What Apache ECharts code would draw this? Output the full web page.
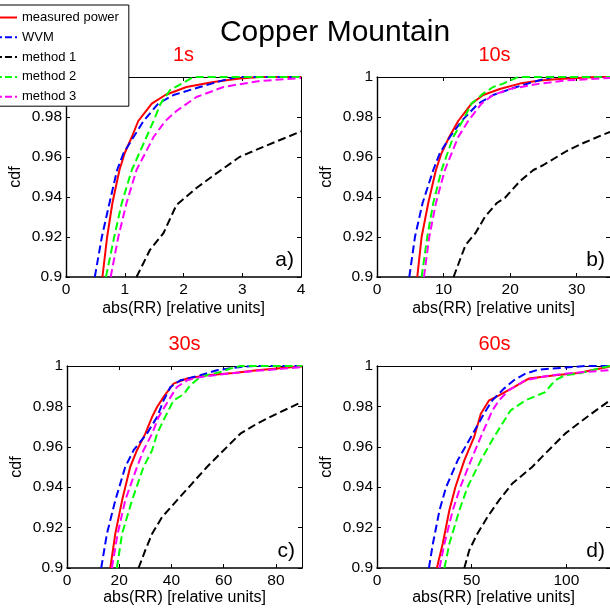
<!DOCTYPE html>
<html><head><meta charset="utf-8">
<script src="https://cdn.jsdelivr.net/npm/echarts@6/dist/echarts.min.js"></script>
<style>html,body{margin:0;padding:0;background:#fff}#c{width:610px;height:612px}</style>
</head><body><div id="c"></div>
<script>
// ---------- data ----------
const seriesNames = ['measured power', 'WVM', 'method 1', 'method 2', 'method 3'];
const mainTitle = 'Copper Mountain';
const panelTitles = ['1s', '10s', '30s', '60s'];
const panelLetters = ['a)', 'b)', 'c)', 'd)'];
const xAxisName = 'abs(RR) [relative units]';
const yAxisName = 'cdf';
const xMaxes = [4, 35, 90, 123];
const xIntervals = [1, 10, 20, 50];
const yMin = 0.9, yMax = 1, yInterval = 0.02;

// panel a) 1s
const a_measured = [[0.62,0.9],[0.70,0.92],[0.79,0.937],[0.91,0.9535],[1.0,0.962],[1.12,0.97],[1.23,0.978],[1.46,0.9867],[1.69,0.991],[2.05,0.995],[2.51,0.9975],[2.96,0.9992],[3.3,1.0],[4,1.0]];
const a_wvm = [[0.49,0.9],[0.61,0.92],[0.74,0.937],[0.87,0.9535],[0.98,0.962],[1.15,0.97],[1.32,0.978],[1.57,0.9867],[1.83,0.991],[2.28,0.995],[2.67,0.9983],[2.9,1.0],[4,1.0]];
const a_m1 = [[1.2,0.9],[1.43,0.9136],[1.66,0.922],[1.88,0.936],[2.22,0.9445],[2.56,0.9518],[2.96,0.9601],[3.36,0.9651],[4,0.9728]];
const a_m2 = [[0.68,0.9],[0.82,0.92],[0.95,0.937],[1.12,0.9535],[1.37,0.97],[1.49,0.978],[1.61,0.9867],[1.77,0.9934],[1.97,0.9967],[2.17,1.0],[4,1.0]];
const a_m3 = [[0.76,0.9],[0.89,0.92],[1.03,0.937],[1.2,0.9535],[1.49,0.97],[1.69,0.978],[1.88,0.983],[2.22,0.99],[2.68,0.995],[2.85,0.9959],[3.3,0.998],[4,0.9995]];

// panel b) 10s
const b_measured = [[6.05,0.9],[6.7,0.92],[7.7,0.937],[8.85,0.9535],[9.7,0.962],[10.85,0.97],[12.2,0.978],[14.2,0.9867],[15.95,0.991],[18.45,0.994],[21.45,0.9967],[24.45,0.9983],[27.4,0.999],[33,1.0],[35,1.0]];
const b_wvm = [[4.85,0.9],[5.7,0.92],[6.85,0.937],[8.45,0.9535],[9.45,0.962],[10.95,0.97],[12.7,0.978],[15.2,0.9867],[17.45,0.991],[20.95,0.995],[23.45,0.9975],[26.4,1.0],[35,1.0]];
const b_m1 = [[11.5,0.9],[13.3,0.916],[14.8,0.922],[16.2,0.93],[18,0.937],[19.2,0.9395],[21.5,0.948],[23.5,0.9535],[25,0.956],[28.5,0.963],[31,0.967],[35,0.9726]];
const b_m2 = [[6.7,0.9],[7.55,0.92],[8.45,0.937],[9.7,0.9535],[11.45,0.97],[12.85,0.978],[14.2,0.9867],[15.95,0.9917],[17.45,0.995],[18.95,0.9967],[21.2,1.0],[35,1.0]];
const b_m3 = [[7.05,0.9],[7.85,0.92],[8.85,0.937],[10.2,0.9535],[12.2,0.97],[13.7,0.978],[15.7,0.9867],[17.45,0.991],[19.95,0.994],[24.45,0.9967],[28.45,0.9983],[35,0.9995]];

// panel c) 30s
const c_measured = [[16.6,0.9],[18.5,0.917],[21.1,0.9335],[24.2,0.95],[26.8,0.9583],[30,0.9665],[32.6,0.9748],[34.5,0.9797],[37,0.9847],[40.8,0.9913],[46,0.9938],[53.6,0.9954],[63.8,0.9965],[72.8,0.9979],[86.8,0.9995],[90,0.9998]];
const c_wvm = [[13.1,0.9],[15.3,0.917],[18.5,0.9335],[22.3,0.95],[25.5,0.9583],[30.6,0.9665],[34.5,0.9748],[37,0.983],[39.6,0.9896],[43.4,0.9929],[51.1,0.9954],[57.4,0.9979],[66.4,0.9995],[72,1.0],[90,1.0]];
const c_m1 = [[27.4,0.9],[30,0.9088],[32.6,0.917],[36.4,0.9252],[42.1,0.9335],[47.9,0.9418],[53.6,0.95],[60,0.9583],[66.4,0.9665],[72.8,0.9715],[80.4,0.9764],[90,0.9822]];
const c_m2 = [[19.1,0.9],[21.1,0.917],[24.9,0.9335],[29.3,0.95],[32.6,0.9583],[34.5,0.9665],[37.6,0.9748],[40.8,0.983],[44.7,0.986],[47.2,0.9905],[51.1,0.9946],[58.7,0.997],[62.5,0.9987],[66.4,1.0],[90,1.0]];
const c_m3 = [[17.2,0.9],[19.4,0.917],[22.3,0.9335],[26.8,0.95],[29.3,0.9583],[32.6,0.9665],[35.1,0.9748],[38.9,0.983],[42.1,0.9896],[46,0.9929],[51.1,0.9946],[61.3,0.9962],[71.5,0.9975],[83,0.9987],[90,0.9995]];

// panel d) 60s
const d_measured = [[31.6,0.9],[34.7,0.912],[38.2,0.9286],[41.4,0.9401],[46.1,0.9533],[51.3,0.9649],[54.8,0.9764],[59.2,0.983],[64.4,0.9855],[72.3,0.9896],[80.1,0.9938],[94.1,0.9954],[106.3,0.9965],[113.2,0.9979],[122,0.9995],[123,1.0]];
const d_wvm = [[27.4,0.9],[29.5,0.912],[33,0.9286],[36.5,0.9401],[42.6,0.9533],[49.6,0.9649],[56.5,0.9764],[60.9,0.983],[67,0.9888],[72.3,0.993],[78.4,0.9962],[85.3,0.9982],[99.3,0.9992],[109.8,1.0],[123,1.0]];
const d_m1 = [[46.1,0.9],[48.7,0.9088],[53,0.917],[58.3,0.9252],[64.4,0.9335],[71.4,0.9418],[81.9,0.95],[87.1,0.955],[94.1,0.9616],[99.3,0.9665],[106.3,0.9715],[113.2,0.9764],[123,0.983]];
const d_m2 = [[35.6,0.9],[38.2,0.912],[43.5,0.9286],[47.8,0.9401],[54.8,0.9533],[61.8,0.9649],[70.5,0.978],[78.4,0.983],[88.8,0.9871],[94.1,0.993],[99.3,0.9954],[106.3,0.9962],[116.8,0.9987],[123,1.0]];
const d_m3 = [[33,0.9],[35.6,0.912],[40,0.9286],[44,0.9401],[49.6,0.9533],[54.8,0.9649],[60.9,0.978],[64.4,0.983],[69.6,0.988],[78.4,0.993],[88.8,0.9949],[99.3,0.9962],[123,0.998]];

const panelData = [
  [a_measured, a_wvm, a_m1, a_m2, a_m3],
  [b_measured, b_wvm, b_m1, b_m2, b_m3],
  [c_measured, c_wvm, c_m1, c_m2, c_m3],
  [d_measured, d_wvm, d_m1, d_m2, d_m3]
];

// ---------- layout & style ----------
const FONT = '"Liberation Sans", Arial, sans-serif';
const colors = ['#ff0000', '#0000ff', '#000000', '#00ff00', '#ff00ff'];
const lineTypes = ['solid', [8, 4], [8, 4], [8, 4], [8, 4]];
const legendLineTypes = ['solid', [7, 3], [7, 3], [7, 3], [7, 3]];
const grids = [
  { left: 66, top: 77, width: 235, height: 200 },
  { left: 377, top: 77, width: 235, height: 200 },
  { left: 67, top: 366, width: 235, height: 202 },
  { left: 377, top: 366, width: 235, height: 202 }
];

const xAxes = [], yAxes = [], series = [], graphics = [];
grids.forEach((g, i) => {
  const common = { gridIndex: i, type: 'value', min: 0, max: xMaxes[i], interval: xIntervals[i], splitLine: { show: false } };
  const maxIsTick = Math.abs(xMaxes[i] / xIntervals[i] - Math.round(xMaxes[i] / xIntervals[i])) < 1e-9;
  xAxes.push(Object.assign({}, common, {
    position: 'bottom',
    axisLine: { onZero: false, lineStyle: { color: '#000', width: 1.6 } },
    axisTick: { inside: true, length: 4, lineStyle: { color: '#000' } },
    axisLabel: { color: '#000', fontSize: 15.5, fontFamily: FONT, margin: 5, showMaxLabel: maxIsTick },
    name: xAxisName, nameLocation: 'middle', nameGap: i < 2 ? 24 : 22,
    nameTextStyle: { color: '#000', fontSize: 16, fontFamily: FONT }
  }));
  xAxes.push(Object.assign({}, common, {
    position: 'top',
    axisLine: { onZero: false, lineStyle: { color: '#000', width: 1 } },
    axisTick: { inside: true, length: 4, lineStyle: { color: '#000' } },
    axisLabel: { show: false }
  }));
  const ycommon = { gridIndex: i, type: 'value', min: yMin, max: yMax, interval: yInterval, splitLine: { show: false } };
  yAxes.push(Object.assign({}, ycommon, {
    position: 'left',
    axisLine: { onZero: false, lineStyle: { color: '#000', width: 1.4 } },
    axisTick: { inside: true, length: 4, lineStyle: { color: '#000' } },
    axisLabel: { color: '#000', fontSize: 15.5, fontFamily: FONT, margin: 4,
      formatter: v => String(+v.toFixed(2)) },
    name: yAxisName, nameLocation: 'middle', nameGap: 42, nameRotate: 90,
    nameTextStyle: { color: '#000', fontSize: 16, fontFamily: FONT }
  }));
  yAxes.push(Object.assign({}, ycommon, {
    position: 'right',
    axisLine: { onZero: false, lineStyle: { color: '#000', width: 1 } },
    axisTick: { inside: true, length: 4, lineStyle: { color: '#000' } },
    axisLabel: { show: false }
  }));
  panelData[i].forEach((d, k) => {
    series.push({
      type: 'line', name: seriesNames[k], data: d,
      xAxisIndex: 2 * i, yAxisIndex: 2 * i,
      symbol: 'none', smooth: false, animation: false,
      lineStyle: { color: colors[k], width: 2, type: lineTypes[k] },
      itemStyle: { color: colors[k] }
    });
  });
  const cx = g.left + g.width / 2;
  graphics.push({ type: 'text', x: cx, y: g.top - 22,
    style: { text: panelTitles[i], fill: '#ff0000', fontSize: 20, fontFamily: FONT, align: 'center', verticalAlign: 'middle' } });
  graphics.push({ type: 'text', x: g.left + g.width - 7, y: g.top + g.height - 17,
    style: { text: panelLetters[i], fill: '#000', fontSize: 21, fontFamily: FONT, align: 'right', verticalAlign: 'middle' } });
});
graphics.push({ type: 'text', x: 335, y: 33,
  style: { text: mainTitle, fill: '#000', fontSize: 30, fontFamily: FONT, align: 'center', verticalAlign: 'middle' } });

const chart = echarts.init(document.getElementById('c'), null, { renderer: 'canvas' });
chart.setOption({
  animation: false,
  backgroundColor: '#fff',
  grid: grids,
  xAxis: xAxes,
  yAxis: yAxes,
  series: series,
  graphic: graphics,
  legend: {
    data: seriesNames.map((n, k) => ({
      name: n,
      itemStyle: { opacity: 0 },
      lineStyle: { color: colors[k], width: 2, type: legendLineTypes[k] }
    })),
    orient: 'vertical',
    left: -12, top: 5,
    padding: [6, 10, 3, 6],
    itemWidth: 22, itemHeight: 14, itemGap: 6.8,
    backgroundColor: '#fff', borderColor: '#000', borderWidth: 1,
    textStyle: { color: '#000', fontSize: 13, fontFamily: FONT },
    z: 10
  }
});
</script>
</body></html>
